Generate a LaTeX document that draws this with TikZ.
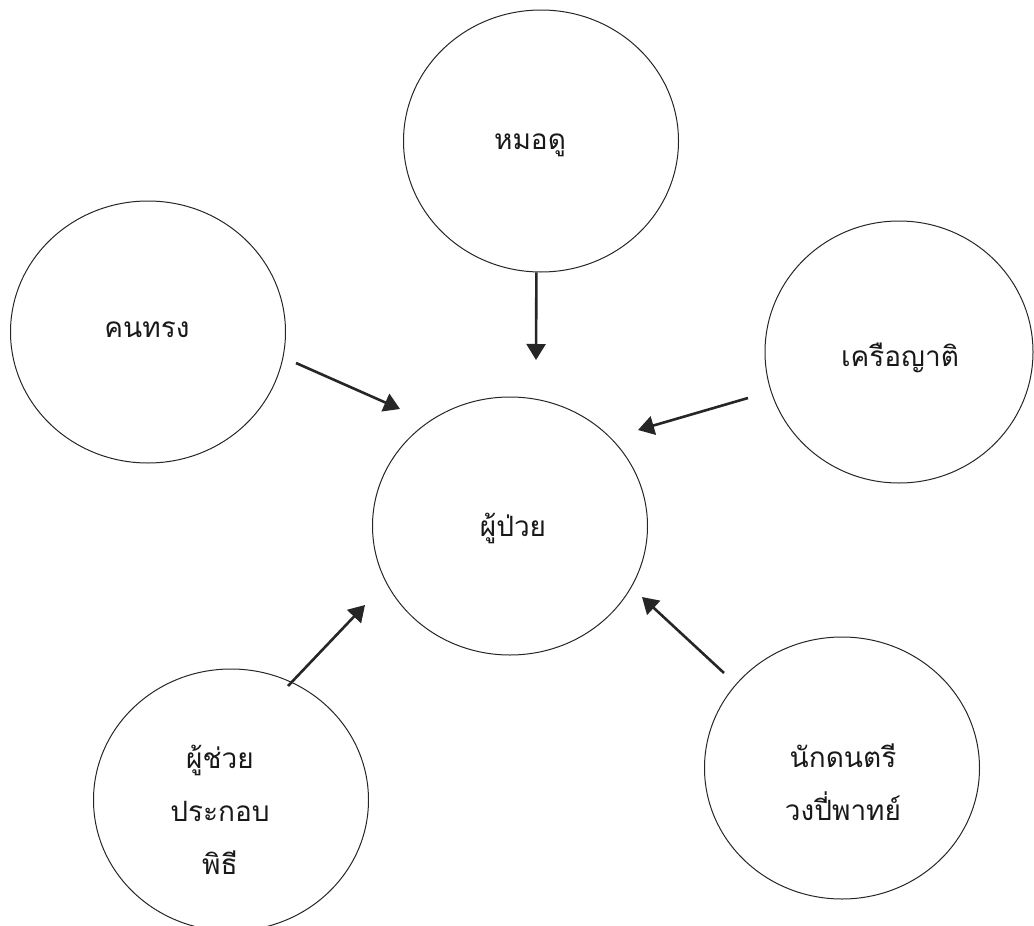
\documentclass[tikz,border=0pt]{standalone}
\usepackage{fontspec}
\setmainfont[Script=Thai]{Loma}
\usetikzlibrary{shapes.geometric,arrows.meta}

\begin{document}
\begin{tikzpicture}[
    x=1pt,y=-1pt,
    ring/.style={draw=black!85,line width=1pt,ellipse,minimum width=275pt,minimum height=262pt,inner sep=0pt},
    word/.style={font=\fontsize{28}{53}\selectfont,align=center,text=black!90,inner sep=0pt},
    push/.style={line width=2.6pt,draw=black!85,-{Triangle[length=16pt,width=19pt]}}
    ]
    \useasboundingbox (0,0) rectangle (1034,926);
    % the circles
    \node[ring] (doo) at (541,141) {};
    \node[ring] (song) at (148,332) {};
    \node[ring,minimum width=268pt] (yat) at (899,352) {};
    \node[ring,minimum height=258pt] (patient) at (510,526) {};
    \node[ring] (helper) at (231,800) {};
    \node[ring] (music) at (842,768) {};
    % the words
    \node[word] (doo-t) at (530,145) {หมอดู};
    \node[word] (song-t) at (147,330) {คนทรง};
    \node[word] (yat-t) at (900,358) {เครือญาติ};
    \node[word] (patient-t) at (513,528) {ผู้ป่วย};
    \node[word] (helper-t) at (220,810) {ผู้ช่วย\\ประกอบ\\พิธี};
    \node[word] (music-t) at (843,782) {นักดนตรี\\วงปี่พาทย์};
    % arrow ends
    \coordinate (doo-in) at (536,360);
    \coordinate (song-out) at (296,363);
    \coordinate (song-in) at (400,409);
    \coordinate (yat-out) at (748,398);
    \coordinate (yat-in) at (638,430);
    \coordinate (helper-out) at (288,686);
    \coordinate (helper-in) at (365,605);
    \coordinate (music-out) at (724,673);
    \coordinate (music-in) at (642,597);
    \draw[push] (doo.-92) -- (doo-in);
    \draw[push] (song-out) -- (song-in);
    \draw[push] (yat-out) -- (yat-in);
    \draw[push] (helper-out) -- (helper-in);
    \draw[push] (music-out) -- (music-in);
\end{tikzpicture}
\end{document}
